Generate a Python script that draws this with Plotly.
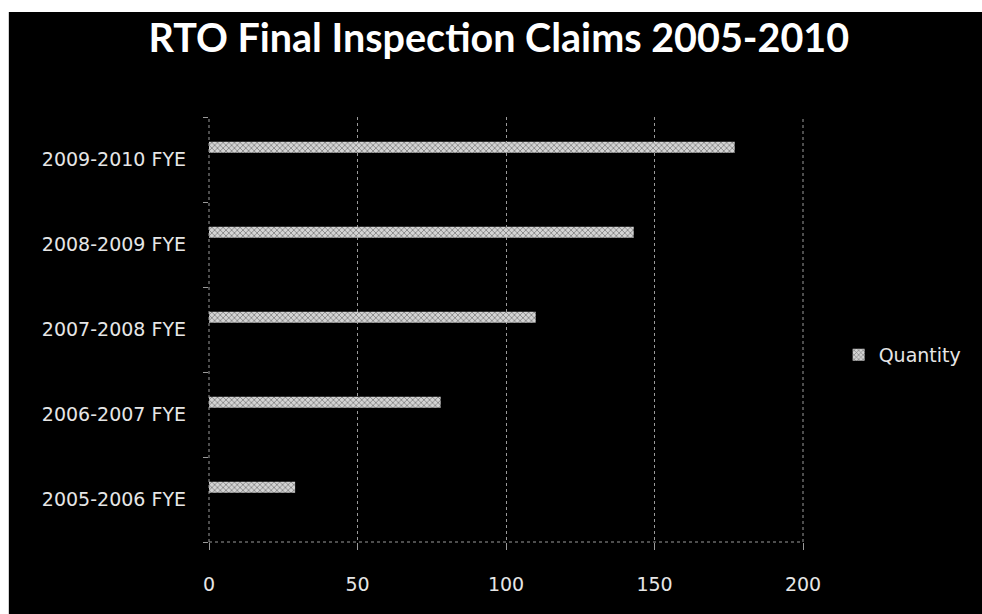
import plotly.graph_objects as go

# Fiscal-year categories, bottom to top
years = ["2005-2006 FYE", "2006-2007 FYE", "2007-2008 FYE", "2008-2009 FYE", "2009-2010 FYE"]
quantity = [29, 78, 110, 143, 177]
x_ticks = [0, 50, 100, 150, 200]

label_font = dict(family="DejaVu Sans", size=19, color="#e6e6e6")
grid_grey = "#9a9a9a"

fig = go.Figure()

fig.add_trace(go.Bar(
    y=years,
    x=quantity,
    orientation="h",
    name="Quantity",
    offset=0.08,
    width=0.13,
    marker=dict(
        color="#cfcfcf",
        line=dict(width=0),
        pattern=dict(shape="x", fgcolor="#000000", bgcolor="#d4d4d4",
                     size=4, solidity=0.3),
    ),
    showlegend=True,
))

# Black chart panel with thin white page border on the top and left
fig.add_shape(type="rect", xref="paper", yref="paper",
              x0=-0.337, x1=1.35, y0=-0.2, y1=1.247,
              fillcolor="#000000", line=dict(width=0), layer="below")

# Dotted frame lines: baseline, value axis at 0 and the right edge at 200
dotted = dict(color=grid_grey, width=1, dash="dot")
fig.add_shape(type="line", xref="paper", yref="paper",
              x0=0, x1=1, y0=0, y1=0, line=dotted)
fig.add_shape(type="line", xref="paper", yref="paper",
              x0=0, x1=0, y0=0, y1=1, line=dotted)
fig.add_shape(type="line", xref="paper", yref="paper",
              x0=1, x1=1, y0=0, y1=1, line=dotted)

fig.update_layout(
    width=982,
    height=614,
    paper_bgcolor="#ffffff",
    plot_bgcolor="#000000",
    margin=dict(l=209, r=179, t=117, b=72, autoexpand=False),
    title=dict(
        text="<b>RTO Final Inspection Claims 2005-2010</b>",
        font=dict(family="Lato", size=39.5, color="#ffffff"),
        x=0.508, xanchor="center", xref="container",
        y=0.938, yanchor="middle", yref="container",
    ),
    xaxis=dict(
        range=[0, 200],
        tickvals=x_ticks,
        ticktext=[str(v) for v in x_ticks],
        showgrid=True,
        gridcolor=grid_grey,
        griddash="dot",
        gridwidth=1,
        zeroline=False,
        showline=False,
        ticks="outside",
        ticklen=7,
        tickcolor=grid_grey,
        tickfont=label_font,
        ticklabelstandoff=18,
    ),
    yaxis=dict(
        type="category",
        categoryorder="array",
        categoryarray=years,
        range=[-0.5, 4.5],
        showgrid=False,
        zeroline=False,
        showline=False,
        ticks="outside",
        tickson="boundaries",
        ticklen=5,
        tickcolor=grid_grey,
        tickfont=label_font,
        ticklabelstandoff=22,
    ),
    legend=dict(
        x=1.06, y=0.44, xanchor="left", yanchor="middle",
        font=label_font,
        bgcolor="rgba(0,0,0,0)",
        itemwidth=30,
    ),
    bargap=0.6,
)

fig.write_html("out.html")
